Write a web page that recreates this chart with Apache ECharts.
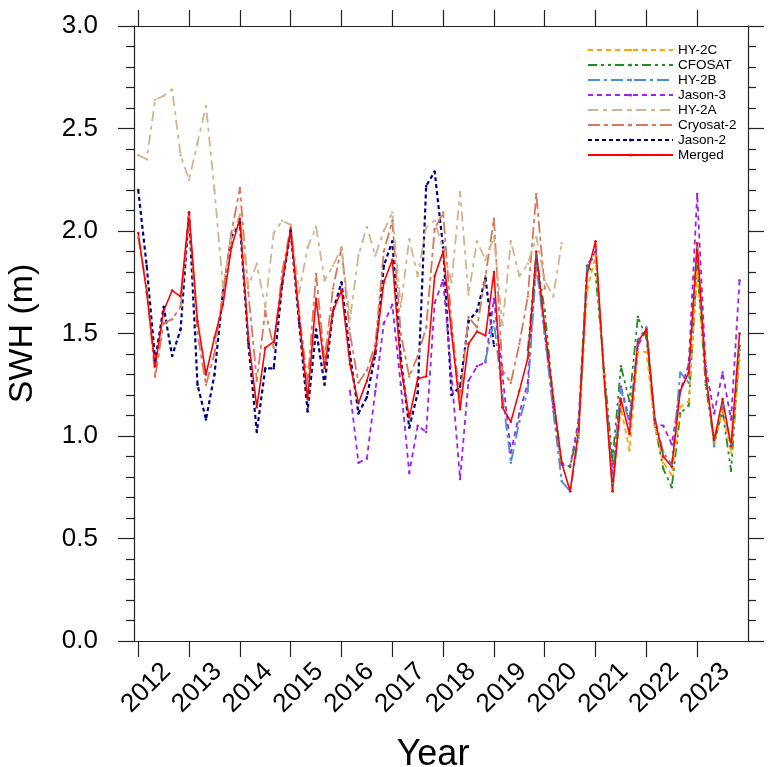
<!DOCTYPE html>
<html>
<head>
<meta charset="utf-8">
<script src="https://cdn.jsdelivr.net/npm/echarts@6/dist/echarts.min.js"></script>
<style>
  html, body { margin: 0; padding: 0; background: #fff; }
  #chart { width: 782px; height: 767px; }
</style>
</head>
<body>
<div id="chart"></div>
<script>
// bi-monthly means, 6 per year (Jan, Mar, May, Jul, Sep, Nov), 2012-2023
var yearLabels = [2012, 2013, 2014, 2015, 2016, 2017, 2018, 2019, 2020, 2021, 2022, 2023];

function pad(n, vals) {
  var out = [];
  for (var i = 0; i < n; i++) out.push(null);
  return out.concat(vals);
}

var merged = [
  1.99, 1.70, 1.34, 1.61, 1.71, 1.68,
  2.09, 1.56, 1.30, 1.48, 1.64, 1.92,
  2.06, 1.48, 1.14, 1.43, 1.46, 1.75,
  2.01, 1.58, 1.18, 1.67, 1.33, 1.61,
  1.71, 1.35, 1.16, 1.27, 1.42, 1.75,
  1.86, 1.34, 1.09, 1.28, 1.29, 1.78,
  1.90, 1.50, 1.13, 1.45, 1.51, 1.49,
  1.80, 1.14, 1.07, 1.22, 1.38, 1.90,
  1.53, 1.19, 0.87, 0.73, 1.03, 1.79,
  1.95, 1.29, 0.73, 1.18, 1.01, 1.46,
  1.52, 1.08, 0.90, 0.85, 1.22, 1.31,
  1.94, 1.30, 0.98, 1.18, 0.95, 1.50
];

var jason2 = [
  2.20, 1.83, 1.37, 1.63, 1.39, 1.52,
  2.09, 1.25, 1.08, 1.30, 1.70, 1.97,
  2.04, 1.45, 1.02, 1.33, 1.33, 1.74,
  2.00, 1.55, 1.12, 1.52, 1.25, 1.61,
  1.75, 1.40, 1.11, 1.19, 1.40, 1.83,
  1.95, 1.38, 1.04, 1.21, 2.22, 2.29,
  1.92, 1.20, 1.24, 1.56, 1.61, 1.77,
  1.44
];

var cryosat2 = [
  1.97, 1.72, 1.29, 1.55, 1.57, 1.63,
  2.07, 1.50, 1.25, 1.40, 1.70, 1.99,
  2.21, 1.70, 1.27, 1.61, 1.43, 1.80,
  2.02, 1.60, 1.26, 1.79, 1.37, 1.72,
  1.92, 1.50, 1.26, 1.32, 1.45, 1.90,
  2.05, 1.50, 1.29, 1.39, 1.53, 2.01,
  2.09, 1.55, 1.18, 1.58, 1.53, 1.78,
  2.06, 1.32, 1.26, 1.45, 1.68, 2.18,
  1.72
];

var hy2a = [
  2.37, 2.35, 2.64, 2.66, 2.69, 2.37,
  2.25, 2.43, 2.61, 2.20, 1.73, 1.97,
  2.08, 1.73, 1.84, 1.63, 1.99, 2.05,
  2.03, 1.70, 1.92, 2.02, 1.76, 1.83,
  1.92, 1.57, 1.88, 2.02, 1.88, 2.00,
  2.09, 1.63, 1.96, 1.78, 2.02, 2.05,
  1.91, 1.75, 2.19, 1.69, 1.95, 1.86,
  1.97, 1.54, 1.95, 1.78, 1.84, 1.97,
  1.76, 1.68, 1.94
];

var jason3 = pad(25, [
              1.22, 0.87, 0.89, 1.22, 1.55,
  1.64, 1.25, 0.82, 1.05, 1.02, 1.65,
  1.76, 1.29, 0.79, 1.27, 1.34, 1.36,
  1.67, 1.30, 0.92, 1.11, 1.26, 1.87,
  1.50, 1.14, 0.86, 0.85, 1.08, 1.83,
  1.90, 1.30, 0.82, 1.24, 1.08, 1.44,
  1.52, 1.06, 1.05, 0.96, 1.22, 1.35,
  2.18, 1.34, 1.11, 1.31, 1.08, 1.76
]);

var hy2b = pad(41, [
                                    1.37,
  1.56, 1.20, 0.87, 1.07, 1.22, 1.83,
  1.50, 1.12, 0.78, 0.73, 0.99, 1.82,
  1.89, 1.30, 0.77, 1.23, 1.06, 1.47,
  1.53, 1.09, 0.92, 0.86, 1.31, 1.26,
  1.92, 1.30, 0.95, 1.15, 0.96, 1.42
]);

var cfosat = pad(46, [
                          1.42, 1.88,
  1.61, 1.18, 0.87, 0.85, 1.04, 1.83,
  1.79, 1.33, 0.88, 1.34, 1.17, 1.58,
  1.48, 1.05, 0.84, 0.75, 1.11, 1.15,
  1.83, 1.25, 0.97, 1.12, 0.83, 1.44
]);

var hy2c = pad(52, [
                          1.01, 1.71,
  1.88, 1.30, 0.73, 1.14, 0.93, 1.41,
  1.41, 1.05, 0.87, 0.81, 1.14, 1.17,
  1.80, 1.30, 0.97, 1.12, 0.92, 1.37
]);

var legendOrder = ['HY-2C', 'CFOSAT', 'HY-2B', 'Jason-3', 'HY-2A', 'Cryosat-2', 'Jason-2', 'Merged'];

var FONT = '"Liberation Sans", Helvetica, Arial, sans-serif';
var AXIS_COLOR = '#222';

// x is months since Jan 2012, one value every second month
function toPoints(vals) {
  var pts = [];
  for (var i = 0; i < vals.length; i++) {
    if (vals[i] != null) pts.push([i * 2, vals[i]]);
  }
  return pts;
}

function line(name, vals, color, dash, width) {
  return {
    name: name,
    type: 'line',
    data: toPoints(vals),
    symbol: 'circle',
    symbolSize: 2.5,
    showSymbol: true,
    itemStyle: { color: color },
    lineStyle: { color: color, width: width, type: dash },
    emphasis: { disabled: true }
  };
}

var tickMonths = yearLabels.map(function (y, i) { return i * 12; });
// NCL centres the rotated year labels slightly right of the tick
var labelMonths = yearLabels.map(function (y, i) { return i * 12 + 1.9; });

function xAxisBase(pos, withLabels) {
  return {
    type: 'value',
    position: pos,
    min: -1,
    max: 144,
    axisLine: { show: true, onZero: false, lineStyle: { color: AXIS_COLOR, width: 1.2 } },
    axisTick: { show: true, inside: false, length: 16, customValues: tickMonths,
                lineStyle: { color: AXIS_COLOR, width: 1.2 } },
    axisLabel: withLabels ? {
      show: true, customValues: labelMonths, rotate: 45, align: 'center', verticalAlign: 'middle',
      margin: 47, fontSize: 26, color: '#000', fontFamily: FONT,
      formatter: function (v) { return String(yearLabels[0] + Math.floor(v / 12)); }
    } : { show: false },
    splitLine: { show: false }
  };
}

function yAxisBase(pos, withLabels) {
  return {
    type: 'value',
    position: pos,
    min: 0,
    max: 3,
    interval: 0.5,
    axisLine: { show: true, onZero: false, lineStyle: { color: AXIS_COLOR, width: 1.2 } },
    axisTick: { show: true, inside: false, length: 16, lineStyle: { color: AXIS_COLOR, width: 1.2 } },
    minorTick: { show: true, splitNumber: 5, length: 8, lineStyle: { color: AXIS_COLOR, width: 1.2 } },
    axisLabel: withLabels ? {
      show: true, margin: 36, fontSize: 26, color: '#000', fontFamily: FONT,
      formatter: function (v) { return v.toFixed(1); }
    } : { show: false },
    splitLine: { show: false },
    minorSplitLine: { show: false }
  };
}

var bottomX = xAxisBase('bottom', true);
bottomX.name = 'Year';
bottomX.nameLocation = 'middle';
bottomX.nameGap = 96;
bottomX.nameTextStyle = { fontSize: 36, color: '#000', fontFamily: FONT, padding: [0, 16, 0, 0] };

var leftY = yAxisBase('left', true);
leftY.name = 'SWH (m)';
leftY.nameLocation = 'middle';
leftY.nameRotate = 90;
leftY.nameGap = 94;
leftY.nameTextStyle = { fontSize: 34, color: '#000', fontFamily: FONT };

var chart = echarts.init(document.getElementById('chart'), null, { renderer: 'canvas' });
chart.setOption({
  animation: false,
  backgroundColor: '#fff',
  grid: { left: 134, right: 34, top: 26, bottom: 126, containLabel: false, outerBoundsMode: 'none' },
  xAxis: [bottomX, xAxisBase('top', false)],
  yAxis: [leftY, yAxisBase('right', false)],
  legend: {
    orient: 'vertical',
    left: 587,
    top: 43,
    padding: 0,
    itemWidth: 85,
    itemHeight: 4,
    itemGap: 1.0,
    selectedMode: false,
    data: legendOrder,
    textStyle: { fontSize: 13.5, lineHeight: 13.5, color: '#000', fontFamily: FONT }
  },
  series: [
    line('Jason-2', jason2, '#000080', [4, 3], 2.2),
    line('Cryosat-2', cryosat2, '#D9775A', [12, 4, 4, 4], 1.8),
    line('HY-2A', hy2a, '#D2B48C', [10, 5, 4, 5], 1.8),
    line('Jason-3', jason3, '#A020F0', [5, 4], 1.8),
    line('HY-2B', hy2b, '#4A90D0', [12, 4, 3, 4], 1.8),
    line('CFOSAT', cfosat, '#228B22', [9, 4, 3, 4, 3, 4], 1.8),
    line('HY-2C', hy2c, '#FFA500', [5, 4], 1.8),
    line('Merged', merged, '#FF0000', 'solid', 1.6)
  ]
});
</script>
</body>
</html>
